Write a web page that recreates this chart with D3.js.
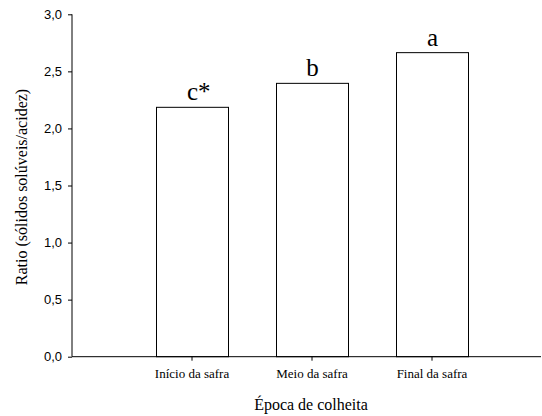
<!DOCTYPE html>
<html>
<head>
<meta charset="utf-8">
<script src="https://cdn.jsdelivr.net/npm/d3@7"></script>
<style>
  body { margin: 0; background: #fff; }
  svg { display: block; }
</style>
</head>
<body>
<svg id="chart" width="542" height="416"></svg>
<script>
// Data
const categories = ['Início da safra', 'Meio da safra', 'Final da safra'];
const ratios = [2.185, 2.395, 2.664];
const letters = ['c', 'b', 'a'];
const marks = ['*', '', ''];
const yTicks = [0, 0.5, 1.0, 1.5, 2.0, 2.5, 3.0];

const SERIF = '"Liberation Serif", "Times New Roman", Times, serif';
const SANS = '"Liberation Sans", Arial, Helvetica, sans-serif';

const svg = d3.select('#chart');

const axisLeft = 72;
const axisRight = 541;
const y0 = 356.7;

const y = d3.scaleLinear()
    .domain([0, 3])
    .range([y0, 14.3]);

const x = d3.scaleBand()
    .domain(categories)
    .range([132, 492])
    .paddingInner(0.4)
    .paddingOuter(0.2);

const fmt = v => d3.format('.1f')(v).replace('.', ',');

// Y axis
const yAxis = svg.append('g')
    .attr('transform', `translate(${axisLeft},0)`)
    .call(d3.axisLeft(y).tickValues(yTicks).tickFormat(fmt).tickSize(4).tickPadding(6));
yAxis.attr('font-family', null).attr('font-size', null);
yAxis.select('.domain').attr('stroke', '#000').attr('d', `M0,${y0}V${y(3)}`);
yAxis.selectAll('.tick line').attr('stroke', '#000');
yAxis.selectAll('.tick text')
    .style('font-family', SANS)
    .style('font-size', '13px')
    .attr('fill', '#000');

// Bars
svg.append('g').selectAll('rect')
    .data(ratios)
    .join('rect')
    .attr('x', (d, i) => x(categories[i]) + 0.5)
    .attr('y', d => y(d))
    .attr('width', x.bandwidth())
    .attr('height', d => y0 - y(d))
    .attr('fill', '#fff')
    .attr('stroke', '#000')
    .attr('stroke-width', 1);

// X axis
const xAxis = svg.append('g')
    .attr('transform', `translate(0,${y0})`)
    .call(d3.axisBottom(x).tickSize(4).tickPadding(8));
xAxis.attr('font-family', null).attr('font-size', null);
xAxis.select('.domain').attr('stroke', '#000').attr('d', `M${axisLeft},0H${axisRight}`);
xAxis.selectAll('.tick line').attr('stroke', '#000');
xAxis.selectAll('.tick text')
    .style('font-family', SERIF)
    .style('font-size', '13px')
    .attr('fill', '#000');

// Significance letters
const lab = svg.append('g');
ratios.forEach((d, i) => {
    const cx = x(categories[i]) + x.bandwidth() / 2 + 0.5;
    const t = lab.append('text')
        .attr('x', cx)
        .attr('y', y(d) - 7)
        .attr('text-anchor', 'middle')
        .style('font-family', SERIF)
        .style('font-size', '25px')
        .text(letters[i]);
    if (marks[i]) {
        const w = t.node().getComputedTextLength();
        lab.append('text')
            .attr('x', cx + w / 2)
            .attr('y', y(d) - 7)
            .style('font-family', SERIF)
            .style('font-size', '25px')
            .text(marks[i]);
    }
});

// Axis titles
svg.append('text')
    .attr('x', 311)
    .attr('y', 410)
    .attr('text-anchor', 'middle')
    .style('font-family', SERIF)
    .style('font-size', '16px')
    .text('Época de colheita');

svg.append('text')
    .attr('transform', 'translate(27,187) rotate(-90)')
    .attr('text-anchor', 'middle')
    .style('font-family', SERIF)
    .style('font-size', '16px')
    .text('Ratio (sólidos solúveis/acidez)');
</script>
</body>
</html>
